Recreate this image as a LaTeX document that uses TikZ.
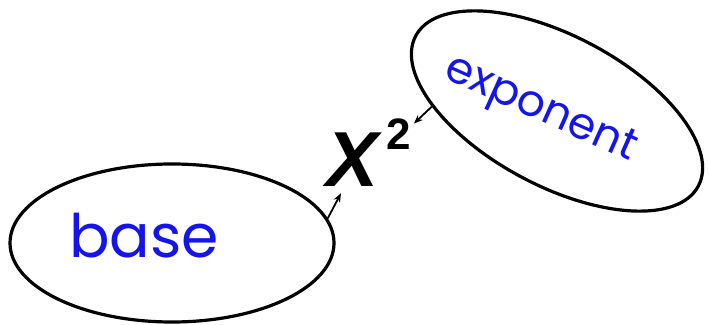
\documentclass[tikz,border=0pt]{standalone}
\usepackage{fontspec}
\setmainfont{Liberation Sans}
\newfontfamily\handfont{Poppins}
\usetikzlibrary{arrows.meta,calc,shapes.geometric}
\definecolor{inkblue}{RGB}{20,20,235}

\begin{document}
\begin{tikzpicture}[x=1pt,y=1pt,
  oval/.style={ellipse,draw=black,line width=3.2pt,inner sep=0pt},
  hand/.style={text=inkblue,inner sep=0pt,font=\handfont\fontsize{60}{60}\selectfont},
  pointer/.style={-{Stealth[length=9pt,width=7pt]},line width=1.8pt}]
\useasboundingbox (0,0) rectangle (709,324);
\node[oval,minimum width=324pt,minimum height=158pt] (base) at (172,81) {};
\node[oval,minimum width=320pt,minimum height=150pt,rotate=-28] (exponent) at (557,213) {};
\node[hand] (basetext) at ($(base.center)+(-28,7)$) {base};
\node[hand,font=\handfont\fontsize{44}{44}\selectfont,rotate=-24] (exptext) at ($(exponent.center)+(-17,0)$) {exponent};
\node[anchor=base west,inner sep=0pt] (power) at (326,137)
  {\fontsize{78}{78}\selectfont\bfseries\itshape X\kern8pt\fontsize{44}{44}\selectfont\upshape\raisebox{37.5pt}{2}};
\draw[pointer] (base.9) -- ([shift={(15,-6)}]power.south west);
\draw[pointer] (exponent.206) -- ([shift={(3,-5)}]power.north east);
\end{tikzpicture}
\end{document}
